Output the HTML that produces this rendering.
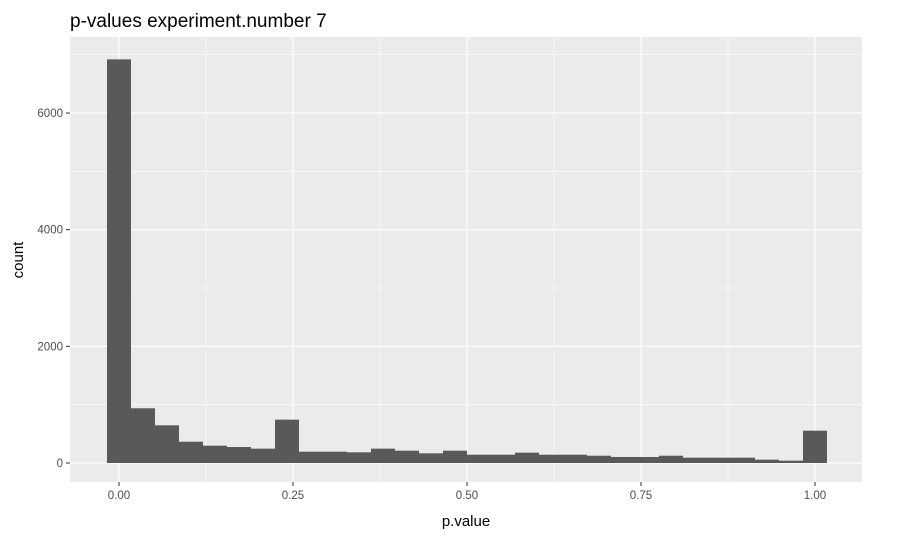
<!DOCTYPE html>
<html><head><meta charset="utf-8"><style>
body{margin:0;background:#fff;}
svg{display:block;font-family:"Liberation Sans",sans-serif;}
</style></head><body>
<svg id="chart" width="918" height="536">
<text x="70" y="27" font-size="19" fill="#000">p-values experiment.number 7</text>
<rect x="70" y="37" width="792" height="445" fill="#ebebeb"/>
<g id="grid"></g>
<g id="bars"></g>
<g id="axes"></g>
<text x="466" y="526" font-size="15" text-anchor="middle" fill="#000">p.value</text>
<text transform="translate(23,260) rotate(-90)" font-size="15" text-anchor="middle" fill="#000">count</text>
</svg>
<script>
const binCenters=[0,1,2,3,4,5,6,7,8,9,10,11,12,13,14,15,16,17,18,19,20,21,22,23,24,25,26,27,28,29];
const counts=[6920,938,646,365,297,274,246,743,194,194,183,246,211,166,211,142,142,177,142,142,125,103,103,125,91,91,91,57,40,554];
const xTicks=[0,0.25,0.5,0.75,1];
const xTickLabels=["0.00","0.25","0.50","0.75","1.00"];
const yTicks=[0,2000,4000,6000];
const yTickLabels=["0","2000","4000","6000"];
const nBins=29;
const NS="http://www.w3.org/2000/svg";
function xs(v){return 119+v*696;}
function ys(v){return 463-v*0.05833;}
function mk(tag,attrs,parent){const e=document.createElementNS(NS,tag);for(const k in attrs)e.setAttribute(k,attrs[k]);parent.appendChild(e);return e;}
const grid=document.getElementById('grid'),bars=document.getElementById('bars'),axes=document.getElementById('axes');
for(let i=0;i<yTicks.length;i++){
  const m=yTicks[i]+1000; const ym=ys(m);
  if(ym>37&&ym<482){const l=mk('line',{x1:70,x2:862,y1:ym,y2:ym,stroke:'#fff','stroke-width':0.6},grid);
  
  }
  const y=ys(yTicks[i]);
  const g=mk('line',{x1:70,x2:862,y1:y,y2:y,stroke:'#fff','stroke-width':1.2},grid);
  
  
  const t=mk('text',{x:63,y:y+4,'font-size':11.5,'text-anchor':'end',fill:'#4d4d4d'},axes);t.textContent=yTickLabels[i];
  
  
  mk('line',{x1:66,x2:70,y1:y,y2:y,stroke:'#333'},axes);
}
for(let i=0;i<xTicks.length;i++){
  const x=xs(xTicks[i]);
  const g=mk('line',{x1:x,x2:x,y1:37,y2:482,stroke:'#fff','stroke-width':1.2},grid);
  
  
  if(i<xTicks.length-1){const xm=xs(xTicks[i]+0.125);
  const l=mk('line',{x1:xm,x2:xm,y1:37,y2:482,stroke:'#fff','stroke-width':0.6},grid);
  
  }
  const t=mk('text',{x:x,y:499,'font-size':11.5,'text-anchor':'middle',fill:'#4d4d4d'},axes);t.textContent=xTickLabels[i];
  
  
  mk('line',{x1:x,x2:x,y1:482,y2:486,stroke:'#333'},axes);
}
const bw=1/nBins;
for(let i=0;i<counts.length;i++){
  const c=binCenters[i]*bw;
  const x0=xs(c-bw/2),x1=xs(c+bw/2);
  const r=mk('rect',{x:x0,y:ys(counts[i]),width:x1-x0,height:ys(0)-ys(counts[i]),fill:'#595959'},bars);
  
  
}
</script>
</body></html>
